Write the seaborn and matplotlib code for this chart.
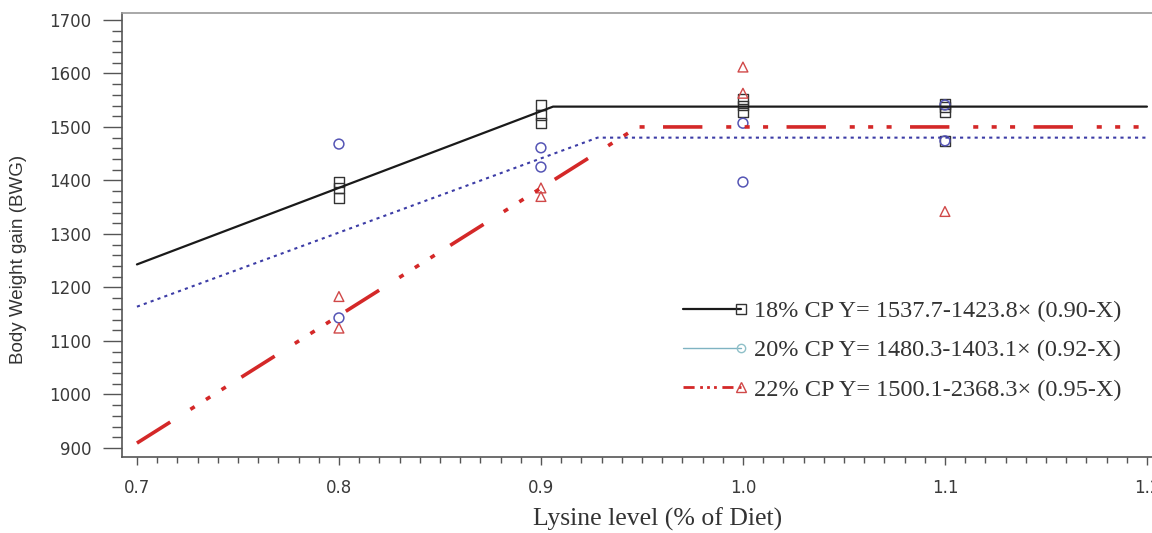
import numpy as np
import seaborn as sns
import matplotlib.pyplot as plt
import pandas as pd
from matplotlib.lines import Line2D
from matplotlib.legend_handler import HandlerLine2D
from matplotlib.ticker import MultipleLocator

# observed body weight gain, by crude protein level
cp18_x = [0.8, 0.8, 0.8, 0.9, 0.9, 0.9, 1.0, 1.0, 1.0, 1.1, 1.1, 1.1, 1.1]
cp18_y = [1397, 1386, 1367, 1541, 1522, 1507, 1552, 1540, 1527, 1543, 1538, 1528, 1474]
cp20_x = [0.8, 0.8, 0.9, 0.9, 1.0, 1.0, 1.1, 1.1]
cp20_y = [1468, 1143, 1461, 1425, 1507, 1397, 1541, 1474]
cp22_x = [0.8, 0.8, 0.9, 0.9, 1.0, 1.0, 1.1]
cp22_y = [1183, 1124, 1386, 1370, 1612, 1563, 1342]

# broken-line fits (start, breakpoint, end)
fit18_x = [0.70, 0.906, 1.20]
fit18_y = [1243, 1538, 1538]
fit20_x = [0.70, 0.928, 1.20]
fit20_y = [1164, 1480, 1480]
fit22_x = [0.70, 0.948, 1.20]
fit22_y = [909, 1500, 1500]

labels = ["18% CP Y= 1537.7-1423.8\u00d7 (0.90-X)",
          "20% CP Y= 1480.3-1403.1\u00d7 (0.92-X)",
          "22% CP Y= 1500.1-2368.3\u00d7 (0.95-X)"]

sns.set_style("ticks")
plt.rcParams['font.family'] = ['DejaVu Sans']

fig = plt.figure(figsize=(11.52, 5.33), dpi=100)
ax = fig.add_axes([0.1059, 0.1426, 0.8941, 0.8330])

red_dash = (0, (10.9, 6.6, 1.4, 3.7, 1.4, 3.7, 1.4, 5.1))
blue_dot = (0, (1.5, 2.0))

sns.lineplot(x=fit18_x, y=fit18_y, ax=ax, color="#1a1a1a", lw=1.6, sort=False)
sns.lineplot(x=fit20_x, y=fit20_y, ax=ax, color="#3c3ca6", lw=1.5, linestyle=blue_dot, sort=False)
sns.lineplot(x=fit22_x, y=fit22_y, ax=ax, color="#d42828", lw=2.6, linestyle=red_dash, sort=False)

sns.scatterplot(x=cp18_x, y=cp18_y, ax=ax, marker="s", s=50, facecolor="none",
                edgecolor="#333333", linewidth=1.0)
sns.scatterplot(x=cp20_x, y=cp20_y, ax=ax, marker="o", s=50, facecolor="none",
                edgecolor="#5555b5", linewidth=1.1)
sns.scatterplot(x=cp22_x, y=cp22_y, ax=ax, marker="^", s=50, facecolor="none",
                edgecolor="#d04848", linewidth=1.0)

ax.set_xlim(0.6926, 1.2025)
ax.set_ylim(883, 1713)
ax.xaxis.set_minor_locator(MultipleLocator(0.01))
ax.yaxis.set_major_locator(MultipleLocator(100))
ax.yaxis.set_minor_locator(MultipleLocator(20))
ax.set_xticks([0.7, 0.8, 0.9, 1.0, 1.1, 1.2])
ax.set_xticklabels(["0.7", "0.8", "0.9", "1.0", "1.1", "1.2"])

ax.tick_params(axis="y", which="major", length=14, width=1, color="#555555", pad=8,
               labelsize=12, labelcolor="#3a3a3a")
ax.tick_params(axis="y", which="minor", length=7, width=1, color="#555555")
ax.tick_params(axis="x", which="major", length=6, width=1, color="#555555", pad=10,
               labelsize=12, labelcolor="#3a3a3a")
ax.tick_params(axis="x", which="minor", length=4, width=1, color="#555555")

for side in ["left", "bottom"]:
    ax.spines[side].set_color("#555555")
    ax.spines[side].set_linewidth(1.2)
ax.spines["top"].set_color("#999999")
ax.spines["top"].set_linewidth(1.2)
ax.spines["right"].set_visible(False)

serif = ['Liberation Serif', 'DejaVu Serif']
ax.set_xlabel("Lysine level (% of Diet)", family=serif, fontsize=18.5, color="#333333",
              va="center")
ax.xaxis.set_label_coords(0.52, -0.14)
ax.set_ylabel("Body Weight gain (BWG)", family=['Liberation Sans', 'DejaVu Sans'],
              fontsize=13.5, color="#333333", va="center")
ax.yaxis.set_label_coords(-0.100, 0.446)


class EndMarker(HandlerLine2D):
    # put the single legend marker at the right end of the line
    def create_artists(self, *args, **kwargs):
        arts = super().create_artists(*args, **kwargs)
        arts[0].set_markevery([2])
        return arts


handles = [
    Line2D([], [], color="#1a1a1a", lw=1.6, marker="s", markersize=7,
           markerfacecolor="none", markeredgecolor="#333333"),
    Line2D([], [], color="#7fb3c2", lw=1.0, marker="o", markersize=6,
           markerfacecolor="none", markeredgecolor="#8fc0c8"),
    Line2D([], [], color="#d42828", lw=2.0, linestyle=(0, (4, 2, 1, 1.5, 1, 1.5, 1, 2)),
           marker="^", markersize=7, markerfacecolor="none", markeredgecolor="#d04848"),
]
ax.legend(handles, labels, handler_map={Line2D: EndMarker()}, loc="upper left",
          bbox_to_anchor=(0.5447, 0.3525), frameon=False, prop={"family": serif, "size": 17.5},
          handlelength=2.4, handletextpad=0.5, labelspacing=0.7, borderpad=0,
          borderaxespad=0, labelcolor="#333333")

fig.savefig("out.png", dpi=100)
